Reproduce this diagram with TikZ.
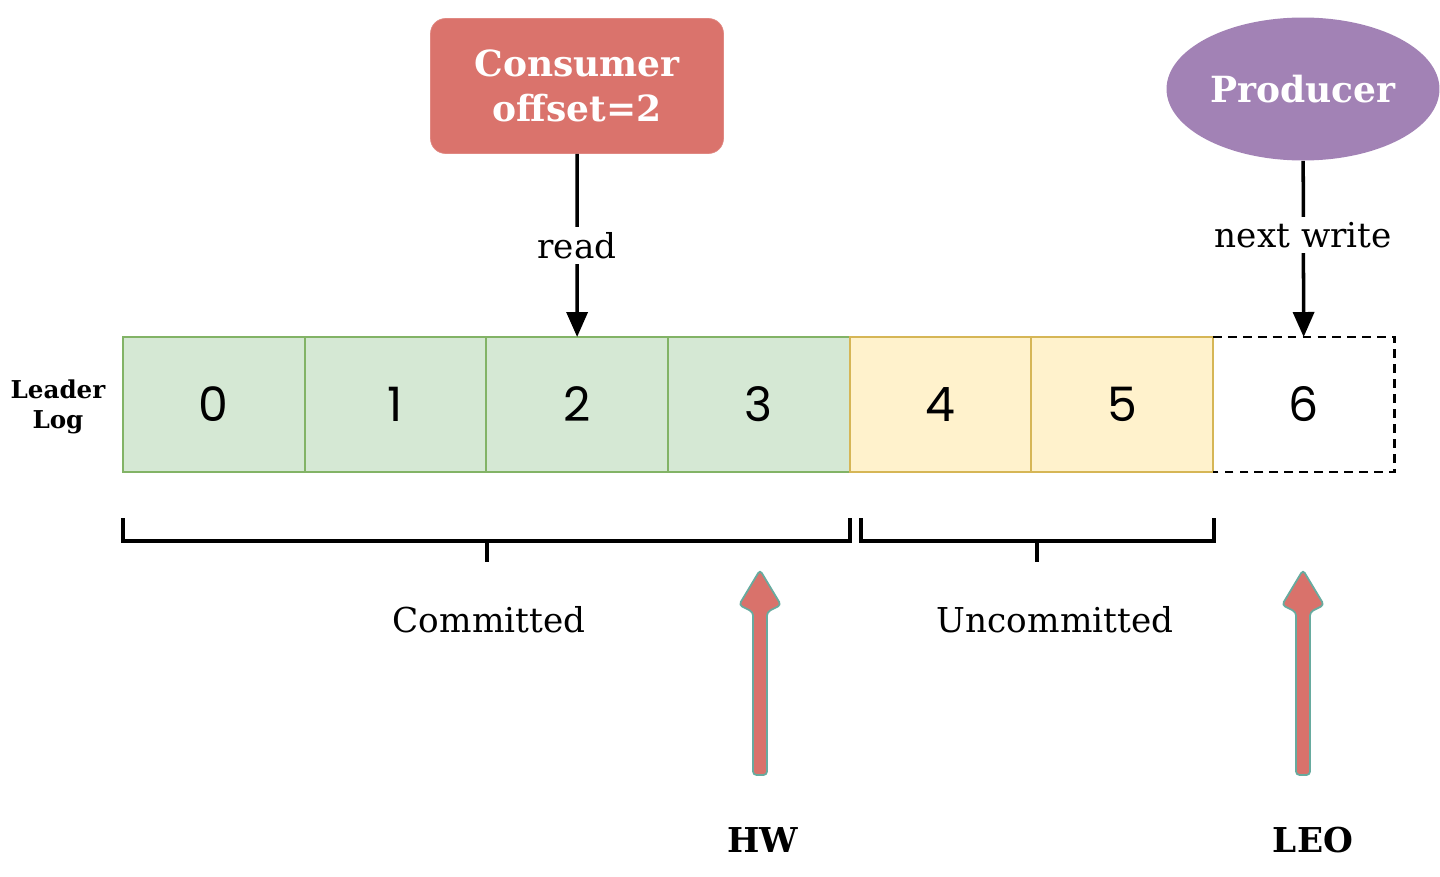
\documentclass[tikz,border=0pt]{standalone}
\usepackage{fontspec}
\setmainfont{DejaVu Serif}
\newfontfamily\cellfont{Poppins}
\usetikzlibrary{arrows.meta,positioning,shapes.geometric}
\definecolor{doneFill}{HTML}{D5E8D4}
\definecolor{doneLine}{HTML}{82B366}
\definecolor{pendFill}{HTML}{FFF2CC}
\definecolor{pendLine}{HTML}{D6B656}
\definecolor{consFill}{HTML}{DA736C}
\definecolor{prodFill}{HTML}{A282B5}
\definecolor{fatFill}{HTML}{D9726B}
\definecolor{fatLine}{HTML}{67AB9F}

\begin{document}
\begin{tikzpicture}[x=0.02cm,y=-0.02cm,node distance=0pt]
  \tikzstyle{cell}=[line width=1.2pt,minimum width=3.634cm,minimum height=2.7cm,inner sep=0pt,outer sep=0pt,font=\cellfont\fontsize{27}{30}\selectfont]
  \tikzstyle{done}=[cell,draw=doneLine,fill=doneFill]
  \tikzstyle{pend}=[cell,draw=pendLine,fill=pendFill]
  \tikzstyle{ptr}=[line width=2pt,-{Triangle[length=0.5cm,width=0.42cm]}]
  \tikzstyle{bracket}=[line width=2.3pt]
  \tikzstyle{fat}=[fill=fatFill,draw=fatLine,line width=1pt,rounded corners=2pt]
  \tikzstyle{lbl}=[font=\fontsize{19.5}{22}\selectfont]
  \tikzstyle{ptrlabel}=[font=\bfseries\fontsize{19.5}{22}\selectfont]
  \useasboundingbox (0,0) rectangle (1440,876);
  % top actors
  \node[fill=consFill,draw=consFill!85!white,rounded corners=0.3cm,minimum width=5.86cm,minimum height=2.7cm,align=center,text=white,font=\bfseries\fontsize{20.5}{26}\selectfont] (cons) at (577,86) {Consumer\\offset=2};
  \node[ellipse,fill=prodFill,inner sep=0pt,minimum width=5.46cm,minimum height=2.86cm,text=white,font=\bfseries\fontsize{20.5}{24}\selectfont] (prod) at (1303,89) {Producer};
  % leader log
  \node[font=\bfseries\fontsize{14}{17.5}\selectfont,align=center] (title) at (58,407) {Leader\\Log};
  \node[done,anchor=north west] (c0) at (123,337) {0};
  \node[done,right=of c0] (c1) {1};
  \node[done,right=of c1] (c2) {2};
  \node[done,right=of c2] (c3) {3};
  \node[pend,right=of c3] (c4) {4};
  \node[pend,right=of c4] (c5) {5};
  \node[cell,right=of c5] (c6) {6};
  \draw[line width=1.5pt,dash pattern=on 5pt off 3.5pt] (c6.north west) -- (c6.north east) -- (c6.south east) -- (c6.south west);
  % read / write
  \draw[ptr] (cons) -- node[lbl,fill=white,inner sep=3pt] {read} (c2);
  \draw[ptr] (prod) -- node[lbl,pos=0.42,fill=white,inner sep=3pt] {next write} (c6);
  % brackets
  \draw[bracket] (123,518) -- (123,541) -- (850,541) -- (850,518);
  \draw[bracket] (487,541) -- (487,562);
  \draw[bracket] (861,518) -- (861,541) -- (1214,541) -- (1214,518);
  \draw[bracket] (1037,541) -- (1037,562);
  \node[lbl] (committed) at (489,620) {Committed};
  \node[lbl] (uncommitted) at (1055,620) {Uncommitted};
  % HW and LEO
  \coordinate (hw) at (760,775);
  \coordinate (leo) at (1303,775);
  \filldraw[fat,shift={(hw)}] (-7,0) -- (-7,-163) -- (-21,-170) -- (0,-205) -- (21,-170) -- (7,-163) -- (7,0) -- cycle;
  \filldraw[fat,shift={(leo)}] (-7,0) -- (-7,-163) -- (-21,-170) -- (0,-205) -- (21,-170) -- (7,-163) -- (7,0) -- cycle;
  \node[ptrlabel] (hwlabel) at (763,840) {HW};
  \node[ptrlabel] (leolabel) at (1313,840) {LEO};
\end{tikzpicture}
\end{document}
